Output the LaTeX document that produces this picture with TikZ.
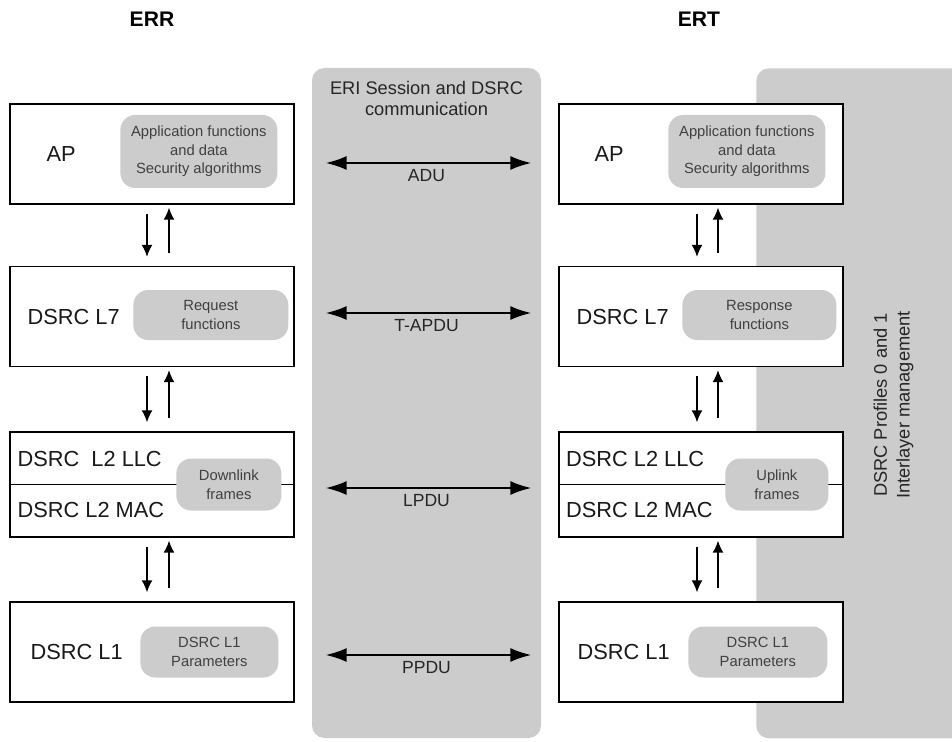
\documentclass[tikz,border=0pt]{standalone}
\usepackage{fontspec}
\setmainfont{Liberation Sans}
\usetikzlibrary{positioning,arrows.meta}

\begin{document}
\begin{tikzpicture}[layerbox/.style={rectangle,
					draw=black,
					line width=0.8pt,
					fill=white,
					minimum width=5.68cm,
					minimum height=2cm},
					funcbox/.style={rectangle,
					rounded corners=0.3cm,
					fill=black!20,
					text=black!75,
					align=center,
					inner sep=0pt,
					font=\fontsize{8.4}{10.5}\selectfont},
					panel/.style={rectangle,
					rounded corners=0.25cm,
					fill=black!20},
					layername/.style={anchor=west,
					inner sep=0pt,
					text=black!90,
					font=\fontsize{12.4}{15}\selectfont},
					pdu/.style={{Latex[length=4.2mm,width=2.8mm]}-{Latex[length=4.2mm,width=2.8mm]},
					line width=1.1pt,
					shorten <=0.62cm,
					shorten >=0.54cm},
					updown/.style={-{Latex[length=2.4mm,width=2.2mm]},
					line width=0.85pt}
					]

% page size of the reference
\useasboundingbox (0,0) rectangle (19.04,-14.84);

% grey panels in the back
\node[panel, minimum width=4.58cm, minimum height=13.4cm] (eri) at (8.53,-8.06) {};
\node[panel, minimum width=4.8cm, minimum height=13.4cm, anchor=north west] (mgmt) at (15.12,-1.36) {};

\node (eriT) [anchor=north, align=center, inner sep=0pt, text=black!85, font=\fontsize{10.4}{12}\selectfont] at ([yshift=-0.26cm]eri.north) {ERI Session and DSRC\\communication};
\node (mgmtT) [rotate=90, align=center, text=black!85, font=\fontsize{10.4}{13}\selectfont] at (17.87,-8.1) {DSRC Profiles 0 and 1\\Interlayer management};

%ERR stack
\node[layerbox] (ap) at (3.04,-3.08) {};
\node[layerbox] (l7) [below of = ap, node distance=3.25cm] {};
\node[layerbox, minimum height=2.1cm] (l2) [below of = l7, node distance=3.36cm] {};
\node[layerbox] (l1) [below of = l2, node distance=3.35cm] {};

%ERT stack
\node[layerbox] (apR) [right of = ap, node distance=10.98cm] {};
\node[layerbox] (l7R) [right of = l7, node distance=10.98cm] {};
\node[layerbox, minimum height=2.1cm] (l2R) [right of = l2, node distance=10.98cm] {};
\node[layerbox] (l1R) [right of = l1, node distance=10.98cm] {};

\node (err) [above of = ap, node distance=2.69cm, font=\bfseries\fontsize{12}{14}\selectfont] {ERR};
\node (ert) [above of = apR, node distance=2.69cm, xshift=-0.04cm, font=\bfseries\fontsize{12}{14}\selectfont] {ERT};

% LLC / MAC split
\draw[line width=0.6pt] (l2.west) -- (l2.east);
\draw[line width=0.6pt] (l2R.west) -- (l2R.east);

% functions
\node[funcbox, minimum width=3.14cm, minimum height=1.46cm, anchor=east] (apF) at ([xshift=-0.34cm, yshift=0.05cm]ap.east) {Application functions\\and data\\Security algorithms};
\node[funcbox, minimum width=3.1cm, minimum height=1cm, anchor=east] (l7F) at ([xshift=-0.12cm, yshift=0.03cm]l7.east) {Request\\functions};
\node[funcbox, minimum width=2.1cm, minimum height=1.04cm, anchor=east] (l2F) at ([xshift=-0.26cm]l2.east) {Downlink\\frames};
\node[funcbox, minimum width=2.76cm, minimum height=1.02cm, anchor=east] (l1F) at ([xshift=-0.32cm]l1.east) {DSRC L1\\Parameters};

\node[funcbox, minimum width=3.14cm, minimum height=1.46cm, anchor=east] (apRF) at ([xshift=-0.36cm, yshift=0.05cm]apR.east) {Application functions\\and data\\Security algorithms};
\node[funcbox, minimum width=3.08cm, minimum height=1cm, anchor=east] (l7RF) at ([xshift=-0.14cm, yshift=0.03cm]l7R.east) {Response\\functions};
\node[funcbox, minimum width=2.06cm, minimum height=1.04cm, anchor=east] (l2RF) at ([xshift=-0.3cm]l2R.east) {Uplink\\frames};
\node[funcbox, minimum width=2.78cm, minimum height=1.02cm, anchor=east] (l1RF) at ([xshift=-0.32cm]l1R.east) {DSRC L1\\Parameters};

% layer names
\node[layername] (apT) at ([xshift=0.74cm]ap.west) {AP};
\node[layername] (l7T) at ([xshift=0.36cm]l7.west) {DSRC L7};
\node[layername] (llcT) at ([xshift=0.16cm, yshift=0.52cm]l2.west) {DSRC\ \ L2 LLC};
\node[layername] (macT) at ([xshift=0.16cm, yshift=-0.5cm]l2.west) {DSRC L2 MAC};
\node[layername] (l1T) at ([xshift=0.42cm]l1.west) {DSRC L1};

\node[layername] (apRT) at ([xshift=0.72cm]apR.west) {AP};
\node[layername] (l7RT) at ([xshift=0.36cm]l7R.west) {DSRC L7};
\node[layername] (llcRT) at ([xshift=0.15cm, yshift=0.52cm]l2R.west) {DSRC L2 LLC};
\node[layername] (macRT) at ([xshift=0.15cm, yshift=-0.5cm]l2R.west) {DSRC L2 MAC};
\node[layername] (l1RT) at ([xshift=0.38cm]l1R.west) {DSRC L1};

% down and up between layers
\draw[updown] ([xshift=-0.1cm, yshift=-0.18cm]ap.south) -- ([xshift=-0.1cm, yshift=0.18cm]l7.north);
\draw[updown] ([xshift=0.34cm, yshift=0.26cm]l7.north) -- ([xshift=0.34cm, yshift=-0.06cm]ap.south);
\draw[updown] ([xshift=-0.1cm, yshift=-0.18cm]l7.south) -- ([xshift=-0.1cm, yshift=0.18cm]l2.north);
\draw[updown] ([xshift=0.34cm, yshift=0.26cm]l2.north) -- ([xshift=0.34cm, yshift=-0.06cm]l7.south);
\draw[updown] ([xshift=-0.1cm, yshift=-0.18cm]l2.south) -- ([xshift=-0.1cm, yshift=0.18cm]l1.north);
\draw[updown] ([xshift=0.34cm, yshift=0.26cm]l1.north) -- ([xshift=0.34cm, yshift=-0.06cm]l2.south);

\draw[updown] ([xshift=-0.08cm, yshift=-0.18cm]apR.south) -- ([xshift=-0.08cm, yshift=0.18cm]l7R.north);
\draw[updown] ([xshift=0.34cm, yshift=0.26cm]l7R.north) -- ([xshift=0.34cm, yshift=-0.06cm]apR.south);
\draw[updown] ([xshift=-0.08cm, yshift=-0.18cm]l7R.south) -- ([xshift=-0.08cm, yshift=0.18cm]l2R.north);
\draw[updown] ([xshift=0.34cm, yshift=0.26cm]l2R.north) -- ([xshift=0.34cm, yshift=-0.06cm]l7R.south);
\draw[updown] ([xshift=-0.08cm, yshift=-0.18cm]l2R.south) -- ([xshift=-0.08cm, yshift=0.18cm]l1R.north);
\draw[updown] ([xshift=0.34cm, yshift=0.26cm]l1R.north) -- ([xshift=0.34cm, yshift=-0.06cm]l2R.south);

% peer to peer
\draw[pdu] ([yshift=-0.18cm]ap.east) -- ([yshift=-0.18cm]apR.west) node[midway, below, text=black!85, font=\fontsize{10}{12}\selectfont] (adu) {ADU};
\draw[pdu] ([yshift=0.07cm]l7.east) -- ([yshift=0.07cm]l7R.west) node[midway, below, text=black!85, font=\fontsize{10}{12}\selectfont] (tapdu) {T-APDU};
\draw[pdu] ([yshift=-0.07cm]l2.east) -- ([yshift=-0.07cm]l2R.west) node[midway, below, text=black!85, font=\fontsize{10}{12}\selectfont] (lpdu) {LPDU};
\draw[pdu] ([yshift=-0.06cm]l1.east) -- ([yshift=-0.06cm]l1R.west) node[midway, below, text=black!85, font=\fontsize{10}{12}\selectfont] (ppdu) {PPDU};

\end{tikzpicture}
\end{document}
